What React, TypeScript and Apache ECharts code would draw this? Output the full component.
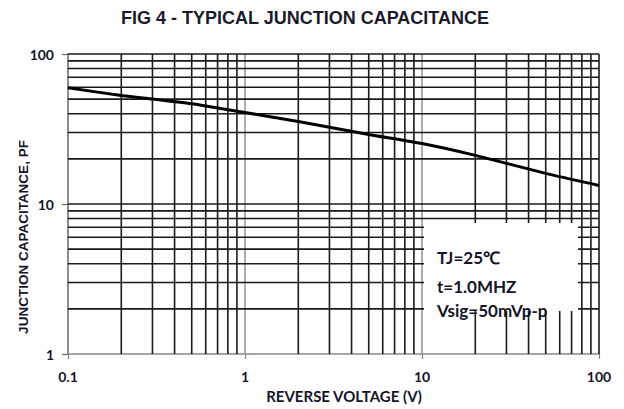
import React, { useEffect, useRef } from "react";
import * as echarts from "echarts";

const voltage = [0.1, 0.2, 0.5, 1, 2, 5, 10, 20, 50, 100];
const capacitance = [59.5, 52.9, 46.6, 40.7, 35.5, 29.1, 25.3, 21.1, 16.0, 13.3];
const xMinorGrid = [0.2, 0.3, 0.4, 0.5, 0.6, 0.7, 0.8, 0.9, 2, 3, 4, 5, 6, 7, 8, 9, 20, 30, 40, 50, 60, 70, 80, 90, 100];
const xMajorGrid = [1, 10];
const yGrid = [2, 3, 4, 5, 6, 7, 8, 9, 10, 20, 30, 40, 50, 60, 70, 80, 90, 100];
const xTickLabels: Record<string, string> = { "0.1": "0.1", "1": "1", "10": "10", "100": "100" };
const title = "FIG 4 - TYPICAL JUNCTION CAPACITANCE";
const xName = "REVERSE VOLTAGE (V)";
const yName = "JUNCTION CAPACITANCE, PF";
const notes = ["TJ=25\u2103", "t=1.0MHZ", "Vsig=50mVp-p"];

const X_MIN = 0.1, X_MAX = 100, Y_MIN = 1, Y_MAX = 100;

export default function App() {
  const ref = useRef<HTMLDivElement>(null);
  useEffect(() => {
    if (!ref.current) return;
    const chart = echarts.init(ref.current, null, { renderer: "svg" });
    const vLine = (color: string, width: number) => (params: any, api: any) => {
      const v = api.value(0);
      const p1 = api.coord([v, Y_MIN]);
      const p2 = api.coord([v, Y_MAX]);
      return { type: "line", shape: { x1: p1[0], y1: p1[1], x2: p2[0], y2: p2[1] }, style: { stroke: color, lineWidth: width } };
    };
    const hLine = (color: string, width: number) => (params: any, api: any) => {
      const v = api.value(1);
      const p1 = api.coord([X_MIN, v]);
      const p2 = api.coord([X_MAX, v]);
      return { type: "line", shape: { x1: p1[0], y1: p1[1], x2: p2[0], y2: p2[1] }, style: { stroke: color, lineWidth: width } };
    };
    const labelFont = "Lato, 'Open Sans', sans-serif";
    const narrow = "'Liberation Sans Narrow', 'Liberation Sans', sans-serif";
    chart.setOption({
      animation: false,
      backgroundColor: "#fff",
      grid: { left: 68, right: 25, top: 54, bottom: 55, containLabel: false },
      xAxis: {
        type: "log",
        logBase: 10,
        min: X_MIN,
        max: X_MAX,
        splitLine: { show: false },
        axisLine: { show: true, lineStyle: { color: "#888", width: 1.5 } },
        axisTick: { show: true, length: 5, lineStyle: { color: "#888", width: 1.2 } },
        axisLabel: {
          margin: 15,
          color: "#141428",
          fontFamily: labelFont,
          fontWeight: "bold",
          fontSize: 14,
          formatter: (v: number) => xTickLabels[String(v)] ?? String(v),
        },
      },
      yAxis: {
        type: "log",
        logBase: 10,
        min: Y_MIN,
        max: Y_MAX,
        splitLine: { show: false },
        axisLine: { show: true, lineStyle: { color: "#666", width: 1.5 } },
        axisTick: { show: true, length: 6, lineStyle: { color: "#666", width: 1.2 } },
        axisLabel: {
          margin: 14,
          color: "#141428",
          fontFamily: labelFont,
          fontWeight: "bold",
          fontSize: 14,
        },
      },
      graphic: [
        {
          type: "text",
          x: 305,
          y: 18,
          style: { text: title, font: `bold 18px ${narrow}`, fill: "#1a1a2a", align: "center", verticalAlign: "middle" },
        },
        {
          type: "text",
          x: 344,
          y: 396,
          style: { text: xName, font: `bold 15px ${labelFont}`, fill: "#141428", align: "center", verticalAlign: "middle" },
        },
        {
          type: "text",
          x: 23,
          y: 237,
          rotation: Math.PI / 2,
          style: { text: yName, font: `bold 13.5px ${narrow}`, fill: "#141428", align: "center", verticalAlign: "middle" },
        },
        {
          type: "rect",
          z: 100,
          shape: { x: 424, y: 223, width: 154, height: 88 },
          style: { fill: "#fff" },
        },
        ...notes.map((t, i) => ({
          type: "text",
          z: 101,
          x: 437,
          y: [257, 286, 310][i],
          style: { text: t, font: `bold 17px ${labelFont}`, fill: "#141428", verticalAlign: "middle" },
        })),
      ],
      series: [
        {
          type: "custom",
          z: 2,
          silent: true,
          renderItem: vLine("#1a1a1a", 1.6),
          encode: { x: 0, y: 1 },
          data: xMinorGrid.map((v) => [v, Y_MIN]),
        },
        {
          type: "custom",
          z: 2,
          silent: true,
          renderItem: vLine("#999", 1.6),
          encode: { x: 0, y: 1 },
          data: xMajorGrid.map((v) => [v, Y_MIN]),
        },
        {
          type: "custom",
          z: 2,
          silent: true,
          renderItem: hLine("#1a1a1a", 1.6),
          encode: { x: 0, y: 1 },
          data: yGrid.map((v) => [X_MIN, v]),
        },
        {
          type: "line",
          z: 5,
          data: voltage.map((v, i) => [v, capacitance[i]]),
          smooth: 0.2,
          showSymbol: false,
          lineStyle: { color: "#000", width: 3 },
        },
      ],
    });
    return () => chart.dispose();
  }, []);
  return <div ref={ref} style={{ width: 624, height: 409, position: "absolute", left: 0, top: 0 }} />;
}
